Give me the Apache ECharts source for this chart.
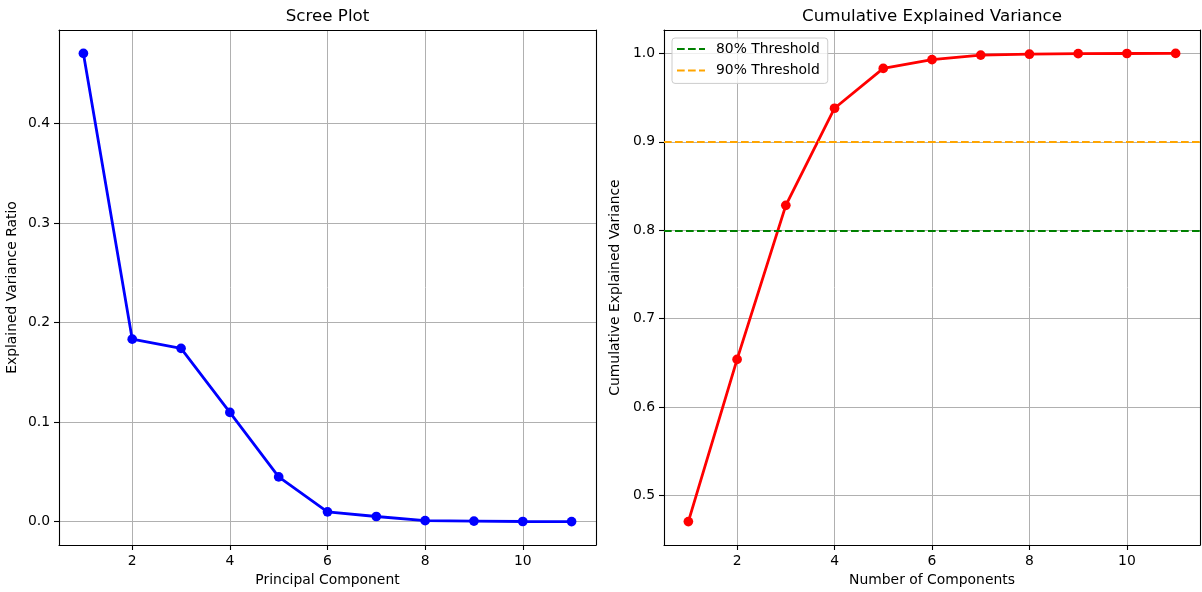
<!DOCTYPE html>
<html><head><meta charset="utf-8">
<script src="https://cdn.jsdelivr.net/npm/echarts@6/dist/echarts.min.js"></script>
<style>html,body{margin:0;padding:0;background:#fff}#c{width:1202px;height:592px}</style>
</head><body><div id="c"></div>
<script>
const components = [1, 2, 3, 4, 5, 6, 7, 8, 9, 10, 11];
const explainedRatio = [0.4706, 0.1834, 0.1742, 0.1098, 0.0450, 0.0099, 0.0052, 0.0010, 0.0006, 0.0002, 0.0001];
const cumulativeVariance = [0.4706, 0.6540, 0.8282, 0.9380, 0.9830, 0.9929, 0.9981, 0.9991, 0.9997, 0.9999, 1.0000];
const xTicks = [2, 4, 6, 8, 10];
const leftYTicks = [0.0, 0.1, 0.2, 0.3, 0.4];
const rightYTicks = [0.5, 0.6, 0.7, 0.8, 0.9, 1.0];
const thresholdValues = [0.8, 0.9];
const thresholdNames = ['80% Threshold', '90% Threshold'];
const thresholdColors = ['#008000', '#ffa500'];

const FONT = 'DejaVu Sans';
const TXT = '#000';
function lim(arr, m) { const lo = Math.min(...arr), hi = Math.max(...arr), r = hi - lo; return [lo - m * r, hi + m * r]; }
const xLim = lim(components, 0.05);
const yLimL = lim(explainedRatio, 0.05);
const yLimR = lim(cumulativeVariance, 0.05);

function mainAxis(idx, name, ticks, lims, gap, fmt) {
  return {
    type: 'value', gridIndex: idx, min: lims[0], max: lims[1],
    name: name, nameLocation: 'middle', nameGap: gap,
    nameTextStyle: { fontFamily: FONT, fontSize: 13.9, color: TXT },
    axisLine: { show: true, onZero: false, lineStyle: { color: '#000', width: 1.1 } },
    axisTick: { show: true, inside: false, length: 5, customValues: ticks, lineStyle: { color: '#000', width: 1.1 } },
    axisLabel: { customValues: ticks, margin: 9, fontFamily: FONT, fontSize: 13.9, color: TXT, formatter: fmt },
    splitLine: { show: true, lineStyle: { color: '#b0b0b0', width: 1 } },
    z: 1
  };
}
function borderAxis(idx, pos, lims) {
  return {
    type: 'value', gridIndex: idx, position: pos, min: lims[0], max: lims[1],
    axisLine: { show: true, onZero: false, lineStyle: { color: '#000', width: 1.1 } },
    axisTick: { show: false }, axisLabel: { show: false }, splitLine: { show: false },
    z: 2
  };
}

const thresholdSeries = thresholdValues.map((v, i) => ({
  name: thresholdNames[i], type: 'line', xAxisIndex: 1, yAxisIndex: 1,
  data: [], symbol: 'none', color: thresholdColors[i],
  lineStyle: { color: thresholdColors[i], width: 2, type: [7.7, 3.3] },
  markLine: {
    silent: true, symbol: 'none', label: { show: false },
    lineStyle: { color: thresholdColors[i], width: 2, type: [7.7, 3.3] },
    data: [{ yAxis: v }]
  },
  z: 3
}));

const option = {
  animation: false,
  backgroundColor: '#fff',
  textStyle: { fontFamily: FONT },
  title: [
    { text: 'Scree Plot', left: 327.5, top: 8, textAlign: 'center', padding: 0,
      textStyle: { fontFamily: FONT, fontSize: 16.7, fontWeight: 'normal', color: TXT } },
    { text: 'Cumulative Explained Variance', left: 932, top: 8, textAlign: 'center', padding: 0,
      textStyle: { fontFamily: FONT, fontSize: 16.7, fontWeight: 'normal', color: TXT } }
  ],
  grid: [
    { left: 59, right: 606, top: 30, bottom: 46, containLabel: false },
    { left: 664, right: 2, top: 30, bottom: 46, containLabel: false }
  ],
  legend: {
    orient: 'vertical', left: 672, top: 38,
    data: thresholdNames,
    itemWidth: 28, itemHeight: 14, itemGap: 7.4,
    padding: [4, 8, 6, 4],
    itemStyle: { opacity: 0, borderWidth: 0 },
    backgroundColor: 'rgba(255,255,255,0.8)', borderColor: '#cccccc', borderWidth: 1, borderRadius: 3,
    textStyle: { fontFamily: FONT, fontSize: 13.9, color: TXT, padding: [0, 0, 0, 6] }
  },
  xAxis: [
    mainAxis(0, 'Principal Component', xTicks, xLim, 28, v => String(v)),
    mainAxis(1, 'Number of Components', xTicks, xLim, 28, v => String(v)),
    borderAxis(0, 'top', xLim),
    borderAxis(1, 'top', xLim)
  ],
  yAxis: [
    mainAxis(0, 'Explained Variance Ratio', leftYTicks, yLimL, 40, v => v.toFixed(1)),
    mainAxis(1, 'Cumulative Explained Variance', rightYTicks, yLimR, 42, v => v.toFixed(1)),
    borderAxis(0, 'right', yLimL),
    borderAxis(1, 'right', yLimR)
  ],
  series: [
    {
      name: 'Explained', type: 'line', xAxisIndex: 0, yAxisIndex: 0,
      data: components.map((c, i) => [c, explainedRatio[i]]),
      symbol: 'circle', symbolSize: 9.7, color: '#0000ff',
      lineStyle: { color: '#0000ff', width: 2.8 }, itemStyle: { color: '#0000ff' }, z: 4
    },
    ...thresholdSeries,
    {
      name: 'Cumulative', type: 'line', xAxisIndex: 1, yAxisIndex: 1,
      data: components.map((c, i) => [c, cumulativeVariance[i]]),
      symbol: 'circle', symbolSize: 9.7, color: '#ff0000',
      lineStyle: { color: '#ff0000', width: 2.8 }, itemStyle: { color: '#ff0000' }, z: 2
    }
  ]
};
const chart = echarts.init(document.getElementById('c'), null, { renderer: 'canvas' });
chart.setOption(option);
</script>
</body></html>
